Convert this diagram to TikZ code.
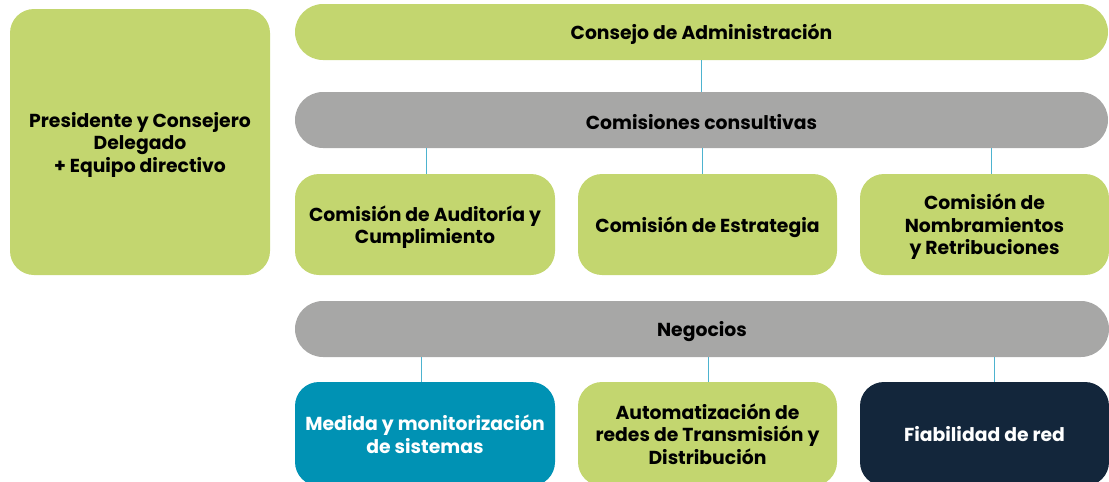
\documentclass[tikz,border=0pt]{standalone}
\usepackage{fontspec}
\setmainfont{Poppins}
\definecolor{lime}{HTML}{C3D66F}
\definecolor{greybar}{HTML}{A7A7A6}
\definecolor{teal}{HTML}{0092B4}
\definecolor{navy}{HTML}{13263B}
\definecolor{linkblue}{HTML}{4DB3CF}
\tikzset{
  lbl/.style={font=\fontsize{18.8}{22.5}\selectfont\bfseries, align=center, inner sep=0pt, yshift=-2.5pt},
  tx/.style={label={[lbl]center:{#1}}},
  ltx/.style={label={[lbl,yshift=2.5pt]center:{#1}}},
  wtx/.style={label={[lbl,text=white,yshift=2.5pt]center:{#1}}},
  bar/.style={rectangle, rounded corners=28pt, minimum width=813pt, minimum height=56pt},
  box/.style={rectangle, rounded corners=24pt, minimum height=101pt},
  link/.style={draw=linkblue, line width=1pt}
}
\begin{document}
\begin{tikzpicture}[x=1pt,y=-1pt]
\useasboundingbox (0,0) rectangle (1109,482);
\clip (0,0) rectangle (1109,482);
\node[box, fill=lime, minimum width=260pt, minimum height=266pt, tx={Presidente y Consejero\\Delegado\\+ Equipo directivo}] (pres) at (140,142) {};
\node[bar, fill=lime, tx={Consejo de Administración}] (consejo) at (701.5,32) {};
\node[bar, fill=greybar, tx={Comisiones consultivas}] (comis) at (701.5,120) {};
\node[box, fill=lime, minimum width=260pt, tx={Comisión de Auditoría y\\Cumplimiento}] (aud) at (425,224.5) {};
\node[box, fill=lime, minimum width=259pt, tx={Comisión de Estrategia}] (estr) at (707.5,224.5) {};
\node[box, fill=lime, minimum width=249pt, tx={Comisión de\\Nombramientos\\y Retribuciones}] (nomb) at (984.5,224.5) {};
\node[bar, fill=greybar, minimum width=814pt, tx={Negocios}] (neg) at (702,329) {};
\node[box, fill=teal, minimum width=260pt, minimum height=104pt, wtx={Medida y monitorización\\de sistemas}] (med) at (425,434) {};
\node[box, fill=lime, minimum width=259pt, minimum height=104pt, ltx={Automatización de\\redes de Transmisión y\\Distribución}] (auto) at (707.5,434) {};
\node[box, fill=navy, minimum width=249pt, minimum height=104pt, wtx={Fiabilidad de red}] (fiab) at (984.5,434) {};
\draw[link] (consejo.south) -- (comis.north);
\draw[link] ([xshift=1pt]aud.north) -- ([xshift=1pt]aud.north |- comis.south);
\draw[link] ([xshift=-5.5pt]estr.north) -- ([xshift=-5.5pt]estr.north |- comis.south);
\draw[link] ([xshift=6.5pt]nomb.north) -- ([xshift=6.5pt]nomb.north |- comis.south);
\draw[link] ([xshift=-4pt]med.north) -- ([xshift=-4pt]med.north |- neg.south);
\draw[link] ([xshift=0.5pt]auto.north) -- ([xshift=0.5pt]auto.north |- neg.south);
\draw[link] ([xshift=9.5pt]fiab.north) -- ([xshift=9.5pt]fiab.north |- neg.south);
\end{tikzpicture}
\end{document}
